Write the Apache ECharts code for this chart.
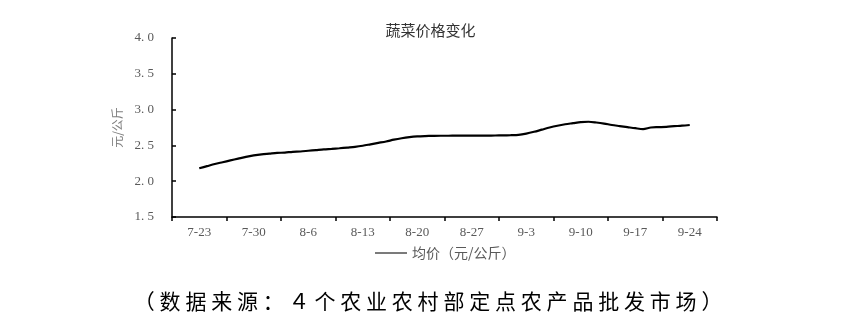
<!DOCTYPE html>
<html>
<head>
<meta charset="utf-8">
<script src="https://cdn.jsdelivr.net/npm/echarts@6/dist/echarts.min.js"></script>
<style>
html,body{margin:0;padding:0;background:#fff;}
#wrap{position:relative;width:861px;height:334px;}
#chart{position:absolute;left:0;top:0;width:861px;height:334px;}
#cap{position:absolute;left:0;top:286px;width:861px;text-align:center;font-family:"Noto Sans CJK SC";font-size:21px;letter-spacing:4.8px;color:#000;line-height:28px;}
</style>
</head>
<body>
<div id="wrap">
<div id="chart"></div>
<div id="cap">（数据来源：４个农业农村部定点农产品批发市场）</div>
</div>
<script>
// daily categories 7-20 .. 9-27
const dates = [
 '7-20','7-21','7-22','7-23','7-24','7-25','7-26','7-27','7-28','7-29','7-30','7-31',
 '8-1','8-2','8-3','8-4','8-5','8-6','8-7','8-8','8-9','8-10','8-11','8-12','8-13','8-14','8-15','8-16',
 '8-17','8-18','8-19','8-20','8-21','8-22','8-23','8-24','8-25','8-26','8-27','8-28','8-29','8-30','8-31',
 '9-1','9-2','9-3','9-4','9-5','9-6','9-7','9-8','9-9','9-10','9-11','9-12','9-13','9-14','9-15','9-16',
 '9-17','9-18','9-19','9-20','9-21','9-22','9-23','9-24','9-25','9-26','9-27'
];
const tickLabels = ['7-23','7-30','8-6','8-13','8-20','8-27','9-3','9-10','9-17','9-24'];
const seriesName = '均价（元/公斤）';
// average price, 7-23 .. 9-24 (daily)
const avgPrice = [
 2.18,2.21,2.24,2.265,2.29,2.315,2.34,2.36,2.375,2.385,2.395,2.40,2.41,2.415,
 2.425,2.435,2.445,2.452,2.46,2.47,2.48,2.495,2.515,2.535,2.555,2.58,2.60,2.615,
 2.625,2.63,2.633,2.635,2.635,2.636,2.636,2.636,2.636,2.637,2.638,2.64,2.643,2.648,
 2.665,2.69,2.72,2.75,2.775,2.795,2.81,2.825,2.83,2.82,2.805,2.785,2.77,2.755,
 2.74,2.728,2.75,2.755,2.76,2.768,2.775,2.785
];
const yTicks = [1.5,2.0,2.5,3.0,3.5,4.0];

const startIdx = dates.indexOf('7-23');
const fullData = dates.map((d,i)=>{
  const k = i - startIdx;
  return (k>=0 && k<avgPrice.length) ? avgPrice[k] : null;
});

const chart = echarts.init(document.getElementById('chart'));
chart.setOption({
  animation:false,
  backgroundColor:'#fff',
  title:{
    text:'蔬菜价格变化', left:'center', top:18,
    textStyle:{fontFamily:'Noto Sans CJK SC', fontSize:15, fontWeight:'normal', color:'#333'}
  },
  legend:{
    bottom:69, left:370,
    icon:'rect', itemWidth:32, itemHeight:1.2, itemGap:4,
    data:[{name:seriesName, itemStyle:{color:'#222'}}],
    textStyle:{fontFamily:'Noto Sans CJK SC', fontSize:14, color:'#595959'}
  },
  grid:{left:172, right:144, top:38, bottom:117},
  xAxis:{
    type:'category', data:dates, boundaryGap:true,
    axisLine:{lineStyle:{color:'#000', width:1.5}},
    axisTick:{show:true, length:4, lineStyle:{color:'#000', width:1.5},
      interval:(i)=> i % 7 === 0},
    axisLabel:{
      interval:(i,v)=> tickLabels.indexOf(v) >= 0,
      margin:9, fontFamily:'Liberation Serif', fontSize:13, color:'#595959'
    },
    splitLine:{show:false}
  },
  yAxis:{
    type:'value', min:yTicks[0], max:yTicks[yTicks.length-1], interval:0.5,
    name:'元/公斤', nameLocation:'middle', nameGap:44, nameRotate:90,
    nameTextStyle:{fontFamily:'Noto Sans CJK SC', fontSize:12, color:'#7f7f7f'},
    axisLine:{show:true, lineStyle:{color:'#000', width:1.5}},
    axisTick:{show:true, inside:true, length:4, lineStyle:{color:'#000', width:1.5}},
    axisLabel:{margin:18, fontFamily:'Liberation Serif', fontSize:13, color:'#595959',
      formatter:(v)=> v.toFixed(1).replace('.', '. ')},
    splitLine:{show:false}
  },
  series:[{
    name:seriesName, type:'line', data:fullData, smooth:0.3,
    showSymbol:false, symbol:'none',
    lineStyle:{color:'#000', width:2.2},
    itemStyle:{color:'#000'}
  }]
});
</script>
</body>
</html>
